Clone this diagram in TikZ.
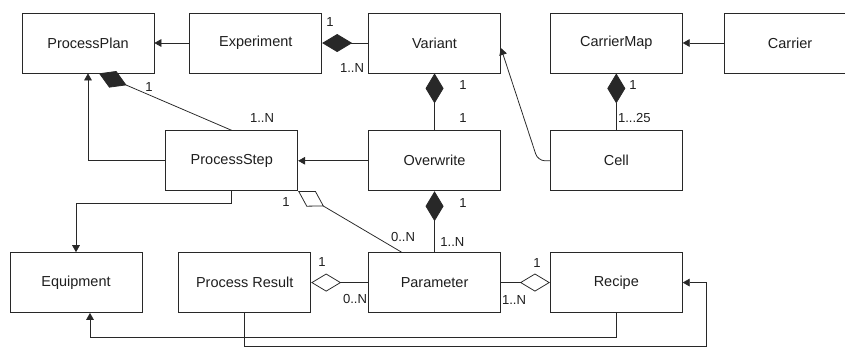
\documentclass[tikz,border=0pt]{standalone}
\usepackage{fontspec}
\setmainfont{Liberation Sans}
\usepackage{xcolor}
\usepackage{tikz}
\definecolor{umlline}{RGB}{40, 40, 40}
\definecolor{umltext}{RGB}{30, 30, 30}
\usetikzlibrary{arrows.meta,positioning}

\begin{document}
\begin{tikzpicture}[line width=0.55pt]
    % Define styles
    \tikzstyle{cls} = [rectangle, draw=umlline, fill=white, text=umltext, inner sep=0pt,
                       minimum width=3.3cm, minimum height=1.5cm, font=\fontsize{10.3}{12}\selectfont]
    \tikzstyle{mult} = [inner sep=0pt, text=umltext, font=\fontsize{9.3}{11}\selectfont]
    \tikzstyle{assoc} = [-{Triangle[length=5pt, width=5.5pt]}, umlline]
    \tikzstyle{compo} = [{Diamond[length=0.75cm, width=0.45cm]}-, umlline]
    \tikzstyle{aggr} = [{Diamond[open, length=0.75cm, width=0.45cm]}-, umlline]

    \useasboundingbox (0,0) rectangle (21.125,-8.675);

    % Nodes
    \node[cls] (processplan) at (2.2,-1.075) {ProcessPlan};
    \node[cls, right=0.875cm of processplan] (experiment) {Experiment};
    \node[cls, right=1.15cm of experiment] (variant) {Variant};
    \node[cls, right=1.225cm of variant] (carriermap) {CarrierMap};
    \node[cls, right=1.025cm of carriermap] (carrier) {Carrier};
    \node[cls, below=1.425cm of variant] (overwrite) {Overwrite};
    \node[cls, below=1.425cm of carriermap] (cell) {Cell};
    \node[cls, left=1.75cm of overwrite] (processstep) {ProcessStep};
    \node[cls, below=1.525cm of overwrite] (parameter) {Parameter};
    \node[cls, below=1.525cm of cell] (recipe) {Recipe};
    \node[cls, left=1.425cm of parameter] (processresult) {Process Result};
    \node[cls, left=0.9cm of processresult] (equipment) {Equipment};

    % Connections
    \draw[assoc] (experiment) -- (processplan);
    \draw[compo] (experiment.east) -- (variant.west);
    \draw[assoc] (processstep.west) -| (processplan.south);
    \draw[compo] ([xshift=0.275cm]processplan.south) -- (processstep.north);
    \draw[compo] (variant.south) -- (overwrite.north);
    \draw[assoc] (overwrite) -- (processstep);
    \draw[assoc, rounded corners=5pt] (cell.west) -- ([xshift=-0.3cm]cell.west) -- ([yshift=-0.125cm]variant.east);
    \draw[compo] (carriermap.south) -- (cell.north);
    \draw[assoc] (carrier) -- (carriermap);
    \draw[assoc] (processstep.south) -- ++(0,-0.3) -| (equipment.north);
    \draw[aggr] (processstep.south east) -- ([xshift=-0.825cm]parameter.north);
    \draw[compo] (overwrite.south) -- (parameter.north);
    \draw[aggr] (processresult.east) -- (parameter.west);
    \draw[aggr] (recipe.west) -- (parameter.east);
    \draw[assoc] (processresult.south) |- ([shift={(0.6cm,-1.6cm)}]recipe.east) |- (recipe.east);
    \draw[assoc] (recipe.south) |- ([shift={(0.35cm,-0.6cm)}]equipment.south) -- ([xshift=0.35cm]equipment.south);

    % Multiplicities
    \node[mult] (m1) at (8.25,-0.55) {1};
    \node[mult] (m2) at (8.8,-1.7) {1..N};
    \node[mult] (m3) at (3.725,-2.175) {1};
    \node[mult] (m4) at (6.55,-2.95) {1..N};
    \node[mult] (m5) at (11.575,-2.125) {1};
    \node[mult] (m6) at (11.575,-2.95) {1};
    \node[mult] (m7) at (15.825,-2.125) {1};
    \node[mult] (m8) at (15.86,-2.95) {1...25};
    \node[mult] (m9) at (7.15,-5.05) {1};
    \node[mult] (m10) at (10.075,-5.925) {0..N};
    \node[mult] (m11) at (11.575,-5.075) {1};
    \node[mult] (m12) at (11.31,-6.05) {1..N};
    \node[mult] (m13) at (8.05,-6.55) {1};
    \node[mult] (m14) at (8.875,-7.475) {0..N};
    \node[mult] (m15) at (13.425,-6.575) {1};
    \node[mult] (m16) at (12.85,-7.5) {1..N};
\end{tikzpicture}
\end{document}
